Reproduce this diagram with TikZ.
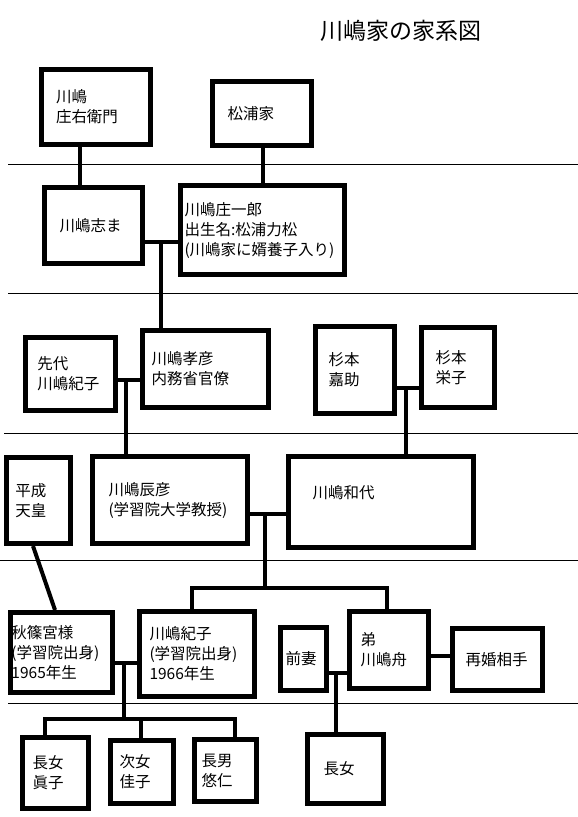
\documentclass[tikz,border=0pt]{standalone}
\usepackage{fontspec}
\newfontfamily\jp{Noto Sans CJK JP}
\usepackage{tikz}
\usetikzlibrary{calc}
\tikzset{
  fam/.style={draw=black,line width=5pt,anchor=north west,align=left,inner ysep=0pt,
    font=\jp\fontsize{15.5}{20}\selectfont},
  sz/.style n args={4}{minimum width=#1pt,minimum height=#2pt,inner xsep=#3pt,text width=#4pt},
  link/.style={draw=black,line width=4pt},
  rule/.style={draw=black,line width=1pt},
}

\begin{document}
\begin{tikzpicture}[x=1pt,y=-1pt]
\useasboundingbox (0,0) rectangle (578,817);
\draw[rule] (8,164) -- (578,164);
\draw[rule] (8,293) -- (578,293);
\draw[rule] (4,433) -- (578,433);
\draw[rule] (0,560) -- (578,560);
\draw[rule] (8,703) -- (578,703);
\node[font=\jp\fontsize{23}{28}\selectfont] (title) at (401,31) {川嶋家の家系図};
\node[fam,sz={109}{75}{15}{79}] (shouemon) at (38.5,66.5) {川嶋\\庄右衛門};
\node[fam,sz={99}{64}{15}{69}] (matsuura) at (210,79) {松浦家};
\node[fam,sz={98}{76}{15}{68}] (shima) at (42,185) {川嶋志ま};
\node[fam,sz={164}{89}{4}{156}] (shoichiro) at (178,183) {川嶋庄一郎\\出生名:松浦力松\\(川嶋家に婿養子入り)};
\node[fam,sz={90}{73}{12}{66}] (senko) at (23,335) {先代\\川嶋紀子};
\node[fam,sz={126}{77}{9}{108}] (takahiko) at (140,328) {川嶋孝彦\\内務省官僚};
\node[fam,sz={79}{87}{13}{53}] (kasuke) at (313,324) {杉本\\嘉助};
\node[fam,sz={73}{80}{14}{45}] (eiko) at (419,325) {杉本\\栄子};
\node[fam,sz={64}{86}{9}{46}] (heisei) at (4,455) {平成\\天皇};
\node[fam,sz={155}{87}{16}{123}] (tatsuhiko) at (90,454) {川嶋辰彦\\(学習院大学教授)};
\node[fam,sz={185}{91}{24}{137}] (kazuyo) at (286,454) {川嶋和代\\\mbox{}};
\node[fam,sz={102}{80}{1}{100}] (akishino) at (8,610) {秋篠宮様\\(学習院出身)\\1965年生};
\node[fam,sz={115}{85}{10}{95}] (noriko) at (137,609) {川嶋紀子\\(学習院出身)\\1966年生};
\node[fam,sz={46}{63}{5}{36}] (zensai) at (278,625) {前妻};
\node[fam,sz={79}{77}{11}{57}] (shu) at (347,609) {弟\\川嶋舟};
\node[fam,sz={90}{62}{13}{64}] (saikon) at (450,626) {再婚相手};
\node[fam,sz={66}{71}{10}{46}] (mako) at (20,735) {長女\\眞子};
\node[fam,sz={63}{63}{9}{45}] (kako) at (108,738) {次女\\佳子};
\node[fam,sz={62}{62}{7}{48}] (hisahito) at (192,737) {長男\\悠仁};
\node[fam,sz={76}{69}{16}{44}] (choujo) at (305,732) {長女};
\coordinate (u1) at (80,0);
\coordinate (u2) at (263,0);
\coordinate (m1) at (161,242);
\coordinate (m2) at (126,380);
\coordinate (m3) at (406,388);
\coordinate (m4) at (265,514);
\coordinate (b1) at (192,588);
\coordinate (b2) at (387,588);
\coordinate (h1) at (33,0);
\coordinate (h2) at (55,0);
\coordinate (m5) at (124,663);
\coordinate (c1) at (45,719);
\coordinate (c2) at (141,719);
\coordinate (c3) at (235,719);
\coordinate (m6) at (336,673);
\coordinate (r1) at (438,656);
\draw[link] (shouemon.south -| u1) -- (shima.north -| u1);
\draw[link] (matsuura.south -| u2) -- (shoichiro.north -| u2);
\draw[link] (shima.east |- m1) -- (shoichiro.west |- m1);
\draw[link] (m1) -- (takahiko.north -| m1);
\draw[link] (senko.east |- m2) -- (takahiko.west |- m2);
\draw[link] (m2) -- (tatsuhiko.north -| m2);
\draw[link] (kasuke.east |- m3) -- (eiko.west |- m3);
\draw[link] (m3) -- (kazuyo.north -| m3);
\draw[link] (tatsuhiko.east |- m4) -- (kazuyo.west |- m4);
\draw[link] (m4) -- (m4 |- b1);
\draw[link] (noriko.north -| b1) -- (b1) -- (b2) -- (shu.north -| b2);
\draw[link] (heisei.south -| h1) -- (akishino.north -| h2);
\draw[link] (akishino.east |- m5) -- (noriko.west |- m5);
\draw[link] (m5) -- (m5 |- c1);
\draw[link] (mako.north -| c1) -- (c1) -- (c3) -- (hisahito.north -| c3);
\draw[link] (c2) -- (kako.north -| c2);
\draw[link] (zensai.east |- m6) -- (shu.west |- m6);
\draw[link] (m6) -- (choujo.north -| m6);
\draw[link] (shu.east |- r1) -- (saikon.west |- r1);
\end{tikzpicture}
\end{document}
